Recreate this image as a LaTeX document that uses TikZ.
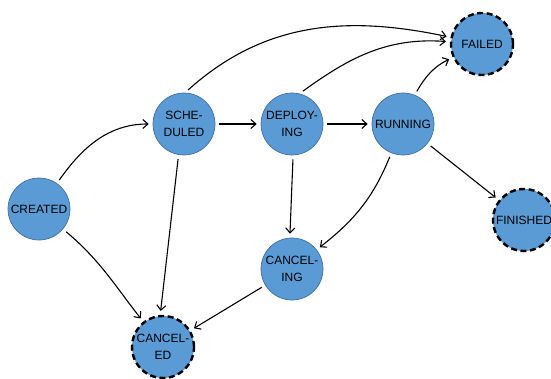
\documentclass[tikz,border=0pt]{standalone}
\usepackage{fontspec}
\setmainfont{Liberation Sans}
\usetikzlibrary{arrows.meta}
\definecolor{stfill}{HTML}{5B9BD5}
\definecolor{stline}{HTML}{41719C}
\begin{document}
\begin{tikzpicture}[x=1pt,y=1pt,
  state/.style={circle, minimum size=62pt, inner sep=0pt, fill=stfill,
    draw=stline, line width=0.7pt, align=center,
    font=\fontsize{12}{17}\selectfont},
  final/.style={state, draw=black, line width=2.4pt, dash pattern=on 6pt off 3.5pt},
  trans/.style={-{Straight Barb[length=5pt,width=9pt]}, line width=1.1pt,
    shorten <=4pt, shorten >=4pt}]
\useasboundingbox[fill=white] (0,0) rectangle (551,378);

\node[state] (created)   at (39,169)  {CREATED};
\node[state] (scheduled) at (184,254) {SCHE-\\DULED};
\node[state] (deploying) at (292,254) {DEPLOY-\\ING};
\node[state] (running)   at (403,254) {RUNNING};
\node[final] (failed)    at (482,334) {FAILED};
\node[final] (finished)  at (524,158) {FINISHED};
\node[state] (canceling) at (292,109) {CANCEL-\\ING};
\node[final] (canceled)  at (163,31)  {CANCEL-\\ED};

\draw[trans] (created) to[out=55, in=180] (scheduled);
\draw[trans] (created) to[out=-40, in=128] (canceled);
\draw[trans] (scheduled.88) to[out=42, in=168] (failed);
\draw[trans] (scheduled) -- (deploying);
\draw[trans] (scheduled.-100) -- (canceled.95);
\draw[trans] (deploying.76) to[out=36, in=176] (failed);
\draw[trans] (deploying) -- (running);
\draw[trans] (deploying.-88) -- (canceling.94);
\draw[trans] (running.68) to[out=60, in=205] (failed);
\draw[trans] (running) -- (finished);
\draw[trans] (running) to[out=-112, in=38] (canceling);
\draw[trans] (canceling) -- (canceled);
\end{tikzpicture}
\end{document}
